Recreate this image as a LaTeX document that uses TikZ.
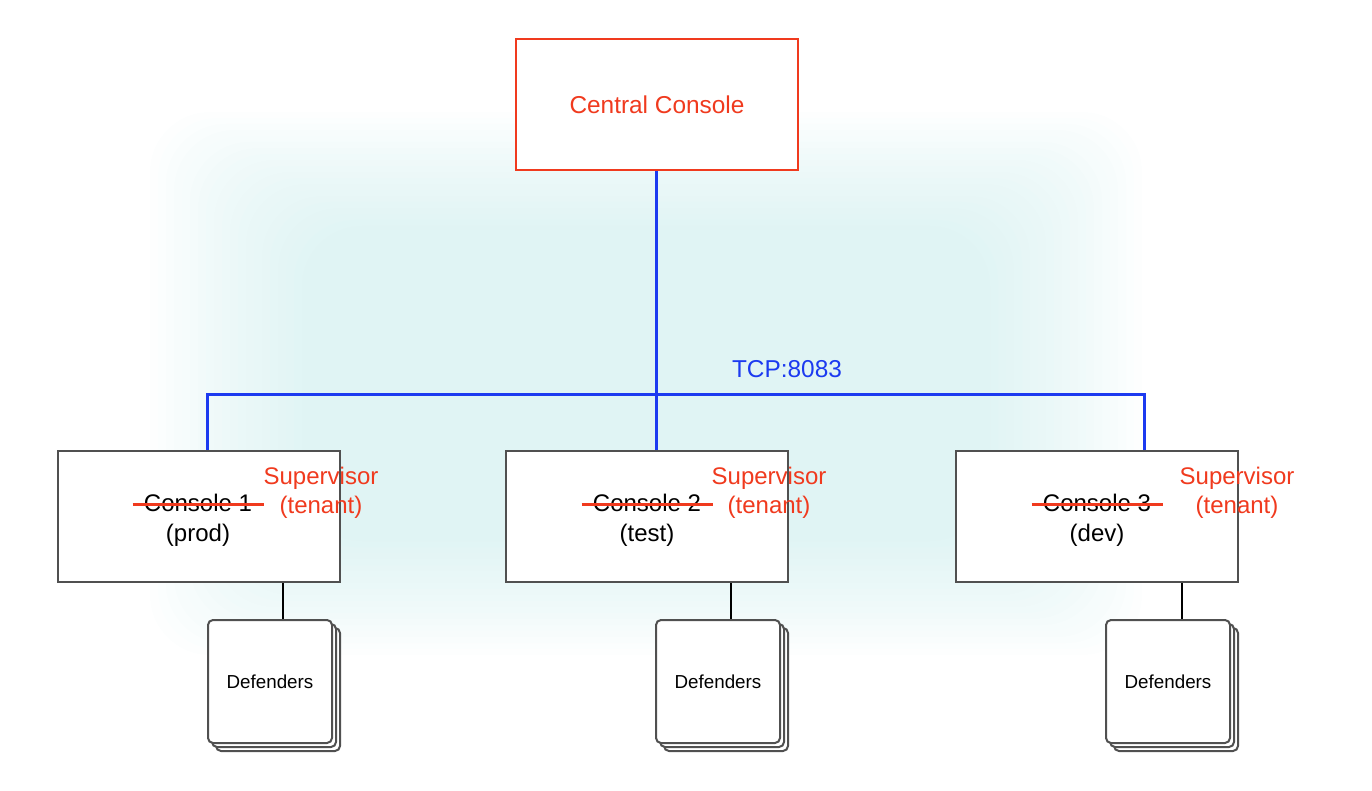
\documentclass[tikz,border=0pt]{standalone}
\usepackage{fontspec}
\setmainfont{Liberation Sans}
\usetikzlibrary{calc}
\definecolor{dred}{RGB}{240,58,30}
\definecolor{dblue}{RGB}{28,58,240}
\definecolor{dgray}{RGB}{80,80,80}
\definecolor{bgcyan}{RGB}{190,232,232}
\begin{document}
\begin{tikzpicture}[x=0.5pt,y=-0.5pt,
  mainbox/.style={draw=dgray,line width=1pt,fill=white,minimum width=141pt,minimum height=65.5pt,inner sep=0pt},
  centralbox/.style={draw=dred,line width=1pt,fill=white,minimum width=141pt,minimum height=65.5pt,inner sep=0pt,text=dred,font=\fontsize{12.2}{14}\selectfont},
  defbox/.style={draw=dgray,line width=1pt,fill=white,rounded corners=2.5pt,minimum width=62pt,minimum height=61.5pt,inner sep=0pt,font=\fontsize{9.4}{11}\selectfont},
  bus/.style={draw=dblue,line width=1.5pt},
  link/.style={draw=black,line width=0.9pt},
  lbl/.style={inner sep=0pt,anchor=base,font=\fontsize{12}{14}\selectfont},
  redlbl/.style={lbl,text=dred},
  strike/.style={draw=dred,line width=1.1pt}
]
\useasboundingbox (0,0) rectangle (1372,791);
% soft cyan background
\foreach \i in {0,...,19}{
  \fill[bgcyan,fill opacity=0.033,rounded corners=30pt]
    (150+\i*8,112+\i*6) rectangle (1142-\i*8,655-\i*6);
}

% nodes
\node[centralbox] (cc) at (657,104.5) {Central Console};
\node[mainbox] (b1) at (199,516.5) {};
\node[mainbox] (b2) at (647,516.5) {};
\node[mainbox] (b3) at (1097,516.5) {};

% bus
\coordinate (busL) at (207,395);
\coordinate (busR) at (1144,395);
\coordinate (busC) at (656,395);
\draw[bus] (cc.south -| busC) -- (b2.north -| busC);
\draw[bus] (b1.north -| busL) -- (busL) -- (busR) -- (b3.north -| busR);
\node[inner sep=0pt,text=dblue,font=\fontsize{12.2}{14}\selectfont] (tcp) at (787,369) {TCP:8083};

% defenders stacks
\foreach \n/\x in {1/270,2/718,3/1168}{
  \node[defbox] (d\n c) at (\x+8,689.5) {};
  \node[defbox] (d\n b) at (\x+4,685.5) {};
  \node[defbox] (d\n) at (\x,681.5) {Defenders};
}
\coordinate (k1) at (283,600);
\coordinate (k2) at (731,600);
\coordinate (k3) at (1182,600);
\draw[link] (b1.south -| k1) -- (d1.north -| k1);
\draw[link] (b2.south -| k2) -- (d2.north -| k2);
\draw[link] (b3.south -| k3) -- (d3.north -| k3);

% labels
\node[lbl] (c1a) at (198,511) {Console 1};
\node[lbl] (c1b) at (198,541) {(prod)};
\node[redlbl] (s1a) at (321,485) {Supervisor};
\node[redlbl] (s1b) at (321,513) {(tenant)};
\draw[strike] ($(c1a.west)+(-11,2)$) -- ($(c1a.east)+(12,2)$);

\node[lbl] (c2a) at (647,511) {Console 2};
\node[lbl] (c2b) at (647,541) {(test)};
\node[redlbl] (s2a) at (769,485) {Supervisor};
\node[redlbl] (s2b) at (769,513) {(tenant)};
\draw[strike] ($(c2a.west)+(-11,2)$) -- ($(c2a.east)+(12,2)$);

\node[lbl] (c3a) at (1097,511) {Console 3};
\node[lbl] (c3b) at (1097,541) {(dev)};
\node[redlbl] (s3a) at (1237,485) {Supervisor};
\node[redlbl] (s3b) at (1237,513) {(tenant)};
\draw[strike] ($(c3a.west)+(-11,2)$) -- ($(c3a.east)+(12,2)$);
\end{tikzpicture}
\end{document}
